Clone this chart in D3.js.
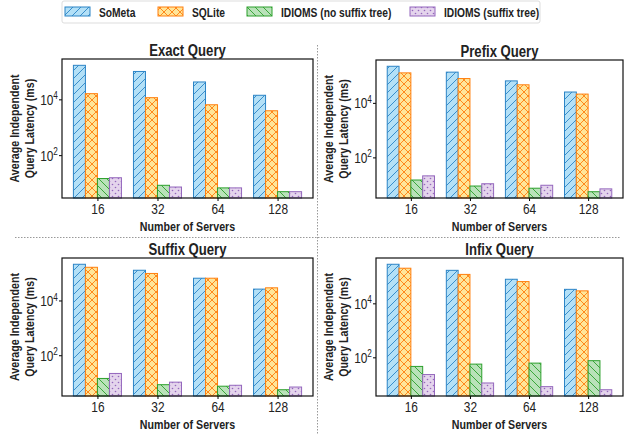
<!DOCTYPE html>
<html>
<head>
<meta charset="utf-8">
<script src="https://cdn.jsdelivr.net/npm/d3@7"></script>
<style>
  body { margin: 0; background: #fff; }
  svg { font-family: "Liberation Sans", Arial, sans-serif; }
</style>
</head>
<body>
<div id="chart"></div>
<script>
// data (ms)
const servers = ['16', '32', '64', '128'];
const systems = ['SoMeta', 'SQLite', 'IDIOMS (no suffix tree)', 'IDIOMS (suffix tree)'];
const panelTitles = ['Exact Query', 'Prefix Query', 'Suffix Query', 'Infix Query'];

const exactSoMeta = [166000, 100000, 42000, 14000];
const exactSQLite = [16000, 11500, 6400, 3900];
const exactNoTree = [14.5, 8.3, 6.7, 4.9];
const exactTree = [15.5, 7.2, 6.7, 4.9];

const prefixSoMeta = [220000, 134000, 64000, 25000];
const prefixSQLite = [126000, 78000, 46000, 21000];
const prefixNoTree = [14.8, 8.9, 7.4, 5.5];
const prefixTree = [21, 10.8, 9.5, 7.0];

const suffixSoMeta = [210000, 127000, 65000, 26000];
const suffixSQLite = [163000, 97000, 65000, 29000];
const suffixNoTree = [14.2, 8.4, 7.4, 5.5];
const suffixTree = [21.6, 10.4, 8.0, 6.9];

const infixSoMeta = [280000, 167000, 78000, 33000];
const infixSQLite = [200000, 118000, 64000, 29000];
const infixNoTree = [46, 56, 61, 75];
const infixTree = [23, 11.2, 8.2, 6.3];

const panelData = [
  [exactSoMeta, exactSQLite, exactNoTree, exactTree],
  [prefixSoMeta, prefixSQLite, prefixNoTree, prefixTree],
  [suffixSoMeta, suffixSQLite, suffixNoTree, suffixTree],
  [infixSoMeta, infixSQLite, infixNoTree, infixTree]
];

const W = 624, H = 435;
const NARROW = 0.82; // no narrow font installed, squeeze Liberation Sans instead
const fills = ['#b3e0f7', '#ffe599', '#b9e2b9', '#e4d4ec'];
const edges = ['#2b84c6', '#ff7f0e', '#2ca02c', '#9467bd'];

// axes boxes [left, right, top, bottom]
const boxes = [
  [62, 313, 59, 198],
  [376, 623, 60, 198],
  [62, 313, 258, 396],
  [376, 623, 258, 396]
];

const svg = d3.select('#chart').append('svg')
  .attr('width', W).attr('height', H);

function label(parent, x, y, txt, size, opts = {}) {
  const g = parent.append('g')
    .attr('transform', `translate(${x},${y})` + (opts.rotate ? ` rotate(${opts.rotate})` : '') + ` scale(${NARROW},1)`);
  return g.append('text')
    .attr('text-anchor', opts.anchor || 'middle')
    .attr('font-size', size)
    .attr('font-weight', opts.bold === false ? 'normal' : 'bold')
    .attr('fill', '#222')
    .text(txt);
}

// hatch patterns
const defs = svg.append('defs');
function hatch(id, i) {
  const s = i === 3 ? 6 : 8;
  const p = defs.append('pattern').attr('id', id)
    .attr('patternUnits', 'userSpaceOnUse')
    .attr('width', s).attr('height', s);
  p.append('rect').attr('width', s).attr('height', s).attr('fill', fills[i]);
  const c = edges[i];
  const fwd = `M0,${s} L${s},0 M-2,2 L2,-2 M${s - 2},${s + 2} L${s + 2},${s - 2}`;
  const back = `M0,0 L${s},${s} M-2,${s - 2} L2,${s + 2} M${s - 2},-2 L${s + 2},2`;
  if (i === 0 || i === 1) p.append('path').attr('d', fwd).attr('stroke', c).attr('stroke-width', 0.9);
  if (i === 1 || i === 2) p.append('path').attr('d', back).attr('stroke', c).attr('stroke-width', 0.9);
  if (i === 3) {
    p.append('circle').attr('cx', 1.5).attr('cy', 1.5).attr('r', 0.8).attr('fill', c);
    p.append('circle').attr('cx', 4.5).attr('cy', 4.5).attr('r', 0.8).attr('fill', c);
  }
}
systems.forEach((s, i) => hatch('h' + i, i));

panelData.forEach((series, pi) => {
  const [L, R, T, B] = boxes[pi];
  const g = svg.append('g');

  const all = series.flat();
  const lo = Math.log10(d3.min(all)), hi = Math.log10(d3.max(all));
  const pad = (hi - lo) * 0.05;
  const y = d3.scaleLog().domain([10 ** (lo - pad), 10 ** (hi + pad)]).range([B, T]);
  const x = d3.scaleLinear().domain([-0.59, 3.59]).range([L, R]);
  const bw = x(0.2) - x(0);

  series.forEach((vals, si) => {
    g.selectAll(null).data(vals).enter().append('rect')
      .attr('x', (d, ci) => x(ci - 0.4 + si * 0.2))
      .attr('width', bw)
      .attr('y', d => y(d))
      .attr('height', d => B - y(d))
      .attr('fill', `url(#h${si})`)
      .attr('stroke', edges[si])
      .attr('stroke-width', 1);
  });

  // axes
  const xa = g.append('g').attr('transform', `translate(0,${B})`)
    .call(d3.axisBottom(x).tickValues([0, 1, 2, 3]).tickFormat(i => servers[i]).tickSize(3).tickPadding(3));
  xa.select('.domain').remove();
  xa.selectAll('text').attr('font-size', 14.5).attr('fill', '#222')
    .attr('font-family', '"Liberation Sans", Arial, sans-serif')
    .attr('transform', `scale(${NARROW},1)`);

  const ya = g.append('g').attr('transform', `translate(${L},0)`)
    .call(d3.axisLeft(y).tickValues([100, 10000]).tickFormat('').tickSize(3));
  ya.select('.domain').remove();
  ya.selectAll('.tick').each(function (d) {
    const t = d3.select(this).append('text').attr('x', -5).attr('dy', '0.35em')
      .attr('transform', `scale(${NARROW},1)`)
      .attr('font-family', '"Liberation Sans", Arial, sans-serif')
      .attr('text-anchor', 'end').attr('font-size', 14.5).attr('fill', '#222');
    t.append('tspan').text('10');
    t.append('tspan').attr('dy', '-0.55em').attr('font-size', 10).text(Math.log10(d));
  });

  g.append('rect').attr('x', L).attr('y', T).attr('width', R - L).attr('height', B - T)
    .attr('fill', 'none').attr('stroke', '#111').attr('stroke-width', 1.2);

  label(g, (L + R) / 2, T - 3, panelTitles[pi], 16);
  label(g, (L + R) / 2, B + 32.5, 'Number of Servers', 13);

  const cy = (T + B) / 2;
  label(g, L - 43, cy, 'Average Independent', 13, { rotate: -90 });
  label(g, L - 28, cy, 'Query Latency (ms)', 13, { rotate: -90 });
});

// separators
svg.append('line').attr('x1', 317.5).attr('x2', 317.5).attr('y1', 45).attr('y2', 435)
  .attr('stroke', '#999').attr('stroke-width', 1).attr('stroke-dasharray', '1.5,1.5');
svg.append('line').attr('x1', 15).attr('x2', 620).attr('y1', 237.5).attr('y2', 237.5)
  .attr('stroke', '#999').attr('stroke-width', 1).attr('stroke-dasharray', '1.5,1.5');

// legend
const leg = svg.append('g');
leg.append('rect').attr('x', 62).attr('y', 1).attr('width', 478).attr('height', 22).attr('rx', 2)
  .attr('fill', '#fff').attr('stroke', '#ddd');
const legX = [65, 158, 247, 410];
systems.forEach((s, i) => {
  leg.append('rect').attr('x', legX[i]).attr('y', 7).attr('width', 25).attr('height', 9)
    .attr('fill', `url(#h${i})`).attr('stroke', edges[i]);
  label(leg, legX[i] + 34, 16.5, s, 12.5, { anchor: 'start' });
});
</script>
</body>
</html>
